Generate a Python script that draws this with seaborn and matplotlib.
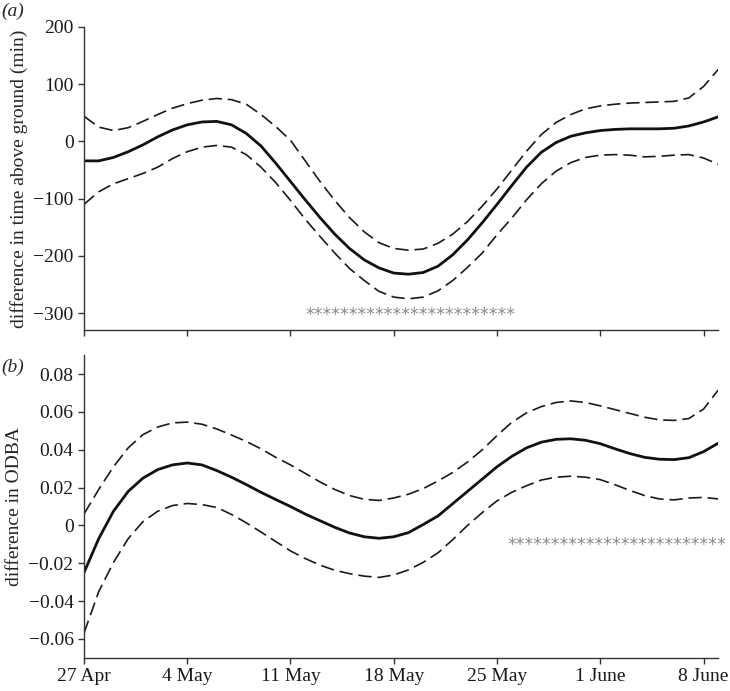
import numpy as np
import pandas as pd
import matplotlib
matplotlib.use("Agg")
import matplotlib.pyplot as plt
import seaborn as sns

# days since 27 April
days = list(range(44))
tick_days = [0, 7, 14, 21, 28, 35, 42]
tick_labels = ["27 Apr", "4 May", "11 May", "18 May", "25 May", "1 June", "8 June"]

# (a) difference in time above ground (min)
time_fit = [-34, -34, -28, -18, -6, 8, 20, 29, 34, 35, 29, 14, -8, -38, -70, -102,
            -133, -162, -187, -207, -221, -230, -232, -229, -218, -198, -172, -142,
            -110, -77, -45, -19, -2, 9, 15, 19, 21, 22, 22, 22, 23, 27, 34, 43]
time_upper = [44, 25, 19, 24, 35, 47, 58, 66, 72, 75, 73, 65, 47, 26, 2, -34, -70,
              -103, -133, -158, -177, -187, -190, -188, -178, -162, -140, -113, -83,
              -50, -17, 12, 33, 47, 57, 62, 65, 67, 68, 69, 70, 76, 96, 126]
time_lower = [-110, -88, -74, -65, -56, -45, -30, -18, -10, -7, -10, -23, -45, -72,
              -103, -136, -166, -195, -222, -243, -262, -272, -275, -272, -261, -243,
              -220, -195, -163, -134, -102, -74, -52, -37, -28, -24, -23, -24, -27,
              -26, -24, -23, -29, -40]

# (b) difference in ODBA
odba_fit = [-0.025, -0.007, 0.0075, 0.018, 0.025, 0.0295, 0.032, 0.033, 0.032, 0.029,
            0.0255, 0.0216, 0.0175, 0.0137, 0.010, 0.006, 0.0025, -0.001, -0.004,
            -0.006, -0.0068, -0.006, -0.0038, 0.0005, 0.005, 0.0115, 0.018, 0.0245,
            0.031, 0.0365, 0.041, 0.044, 0.0455, 0.0458, 0.045, 0.0432, 0.0405, 0.038,
            0.036, 0.035, 0.0348, 0.0358, 0.039, 0.0435]
odba_upper = [0.006, 0.019, 0.031, 0.041, 0.048, 0.052, 0.0542, 0.0546, 0.0535, 0.051,
              0.0478, 0.0444, 0.0405, 0.036, 0.032, 0.0275, 0.023, 0.019, 0.0158,
              0.0138, 0.0132, 0.0145, 0.0165, 0.0195, 0.0235, 0.028, 0.0335, 0.040,
              0.0475, 0.0545, 0.0595, 0.0628, 0.065, 0.0658, 0.065, 0.0632, 0.0612,
              0.0592, 0.0572, 0.0558, 0.0555, 0.0565, 0.0615, 0.0716]
odba_lower = [-0.057, -0.035, -0.0196, -0.007, 0.002, 0.0075, 0.0105, 0.0116, 0.011,
              0.0095, 0.0058, 0.0014, -0.0035, -0.0085, -0.0135, -0.0175, -0.021,
              -0.0237, -0.0255, -0.0268, -0.0275, -0.0262, -0.0235, -0.0195, -0.0145,
              -0.0075, 0.0, 0.0068, 0.013, 0.0175, 0.021, 0.024, 0.0255, 0.026, 0.0255,
              0.0242, 0.0215, 0.0185, 0.0158, 0.014, 0.0135, 0.0145, 0.0148, 0.014]

# significance asterisk rows: (start day, y value, count)
stars_a = (15.0, -303, 24)
stars_b = (28.7, -0.0104, 25)

sns.set_style("ticks")
plt.rcParams["font.family"] = ["Liberation Serif", "DejaVu Serif"]

fig = plt.figure(figsize=(7.3, 6.91), dpi=100)
ax_a = fig.add_axes([0.115, 0.522, 0.869, 0.439])
ax_b = fig.add_axes([0.115, 0.048, 0.869, 0.438])

spine_col = "#333333"
dash = (8, 3.5)


def draw_panel(ax, fit, upper, lower, ylim, yticks, ytick_labels, ylabel, stars):
    df = pd.DataFrame({"day": days, "fit": fit, "upper": upper, "lower": lower})
    sns.lineplot(data=df, x="day", y="upper", ax=ax, color="#1a1a1a", lw=1.2).lines[-1].set_dashes(dash)
    sns.lineplot(data=df, x="day", y="lower", ax=ax, color="#1a1a1a", lw=1.2).lines[-1].set_dashes(dash)
    sns.lineplot(data=df, x="day", y="fit", ax=ax, color="#111111", lw=2.0)
    ax.set_xlim(0, 43)
    ax.set_ylim(*ylim)
    ax.set_yticks(yticks)
    ax.set_yticklabels(ytick_labels)
    ax.set_xticks(tick_days)
    ax.set_ylabel(ylabel, fontsize=14, labelpad=4)
    ax.set_xlabel("")
    for s in ["top", "right"]:
        ax.spines[s].set_visible(False)
    for s in ["left", "bottom"]:
        ax.spines[s].set_color(spine_col)
        ax.spines[s].set_linewidth(1.0)
    ax.tick_params(direction="out", length=4, width=1.0, color=spine_col,
                   labelsize=14, labelcolor="#1a1a1a")
    x0, y0, n = stars
    ax.text(x0, y0, "*" * n, fontsize=12.4, color="#8a8a8a", ha="left", va="center",
            family="DejaVu Sans")


draw_panel(ax_a, time_fit, time_upper, time_lower, (-330, 200),
           [-300, -200, -100, 0, 100, 200],
           ["\u2212300", "\u2212200", "\u2212100", "0", "100", "200"],
           "difference in time above ground (min)", stars_a)
ax_a.set_xticklabels([])

draw_panel(ax_b, odba_fit, odba_upper, odba_lower, (-0.07, 0.09),
           [-0.06, -0.04, -0.02, 0, 0.02, 0.04, 0.06, 0.08],
           ["\u22120.06", "\u22120.04", "\u22120.02", "0", "0.02", "0.04", "0.06", "0.08"],
           "difference in ODBA", stars_b)
ax_b.set_xticklabels(tick_labels)

fig.text(0.002, 0.983, "(a)", fontsize=14, style="italic", ha="left", va="center")
fig.text(0.002, 0.468, "(b)", fontsize=14, style="italic", ha="left", va="center")

fig.savefig("out.png", dpi=100)
